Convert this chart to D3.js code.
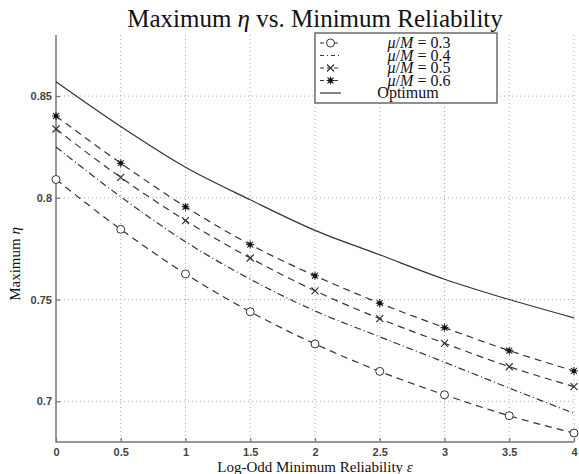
<!DOCTYPE html>
<html>
<head>
<meta charset="utf-8">
<script src="https://cdn.jsdelivr.net/npm/d3@7"></script>
<style>
body{margin:0;background:#fff;}
svg{display:block;}
</style>
</head>
<body>
<div id="chart"></div>
<script>
// values
const epsValues = [0, 0.5, 1, 1.5, 2, 2.5, 3, 3.5, 4];
const mu03 = [0.809, 0.7845, 0.7626, 0.744, 0.7282, 0.7147, 0.7032, 0.6929, 0.6844];
const mu04 = [0.825, 0.8005, 0.7784, 0.760, 0.7444, 0.7317, 0.7192, 0.7065, 0.6941];
const mu05 = [0.8338, 0.810, 0.7888, 0.7704, 0.7543, 0.7406, 0.7285, 0.717, 0.7072];
const mu06 = [0.8402, 0.817, 0.7956, 0.777, 0.7617, 0.7482, 0.7362, 0.7249, 0.7149];
const optimum = [0.857, 0.835, 0.815, 0.799, 0.784, 0.772, 0.760, 0.750, 0.741];
const xTicks = [0, 0.5, 1, 1.5, 2, 2.5, 3, 3.5, 4];
const yTicks = [0.7, 0.75, 0.8, 0.85];
const legendLabels = ["0.3", "0.4", "0.5", "0.6"];

const W = 579, H = 474;
const plotL = 56, plotR = 574, plotT = 35, plotB = 442;
const ink = "#333";

var svg = d3.select("#chart").append("svg")
	.attr("width", W)
	.attr("height", H);

var x = d3.scaleLinear().domain([0, 4]).range([plotL, plotR]);
var y = d3.scaleLinear().domain([0.68, 0.88]).range([plotB, plotT]);

// dotted grid
svg.append("g").selectAll("line").data(xTicks.slice(1)).join("line")
	.attr("x1", d => x(d)).attr("x2", d => x(d))
	.attr("y1", plotT).attr("y2", plotB)
	.attr("stroke", "#aaa").attr("stroke-width", 1)
	.attr("stroke-dasharray", "1,3");
svg.append("g").selectAll("line").data(yTicks).join("line")
	.attr("x1", plotL).attr("x2", plotR)
	.attr("y1", d => y(d)).attr("y2", d => y(d))
	.attr("stroke", "#aaa").attr("stroke-width", 1)
	.attr("stroke-dasharray", "1,3");

// axes (ticks point inward)
var xAxis = svg.append("g")
	.attr("transform", "translate(0," + plotB + ")")
	.call(d3.axisBottom(x).tickValues(xTicks).tickSize(-4).tickPadding(6).tickFormat(d3.format("")));
var yAxis = svg.append("g")
	.attr("transform", "translate(" + plotL + ",0)")
	.call(d3.axisLeft(y).tickValues(yTicks).tickSize(-4).tickPadding(4).tickFormat(d3.format("")));
[xAxis, yAxis].forEach(function(a){
	a.select(".domain").remove();
	a.selectAll(".tick line").attr("stroke", "#777").attr("stroke-width", 1.3);
	a.selectAll(".tick text")
		.style("font-family", "Liberation Sans, Arial, sans-serif")
		.style("font-size", "11px")
		.style("font-weight", "bold")
		.attr("fill", "#444");
});

svg.append("path")
	.attr("d", "M" + plotL + "," + plotT + "V" + plotB + "H" + plotR)
	.attr("fill", "none").attr("stroke", "#777").attr("stroke-width", 1.5);

// series
var series = [
	{vals: mu03, dash: "7,5", marker: "circle"},
	{vals: mu04, dash: "7,3,1,3", marker: "none"},
	{vals: mu05, dash: "7,5", marker: "cross"},
	{vals: mu06, dash: "7,5", marker: "star"},
	{vals: optimum, dash: null, marker: "none"}
];

var line = d3.line().x(d => x(d[0])).y(d => y(d[1])).curve(d3.curveMonotoneX);

function drawMarker(g, type, cx, cy){
	if(type == "circle"){
		g.append("circle").attr("cx", cx).attr("cy", cy).attr("r", 4)
			.attr("fill", "#fff").attr("stroke", ink).attr("stroke-width", 1);
	}
	else if(type == "cross"){
		g.append("path")
			.attr("d", "M" + (cx-3.5) + "," + (cy-3.5) + "L" + (cx+3.5) + "," + (cy+3.5) +
			           "M" + (cx-3.5) + "," + (cy+3.5) + "L" + (cx+3.5) + "," + (cy-3.5))
			.attr("stroke", ink).attr("stroke-width", 1.2);
	}
	else if(type == "star"){
		g.append("path")
			.attr("d", "M" + (cx-4) + "," + cy + "H" + (cx+4) +
			           "M" + cx + "," + (cy-4) + "V" + (cy+4) +
			           "M" + (cx-3) + "," + (cy-3) + "L" + (cx+3) + "," + (cy+3) +
			           "M" + (cx-3) + "," + (cy+3) + "L" + (cx+3) + "," + (cy-3))
			.attr("stroke", ink).attr("stroke-width", 1.1);
		g.append("circle").attr("cx", cx).attr("cy", cy).attr("r", 2.2).attr("fill", "#111");
	}
}

series.forEach(function(s){
	var pts = epsValues.map((e, i) => [e, s.vals[i]]);
	svg.append("path")
		.datum(pts)
		.attr("d", line)
		.attr("fill", "none")
		.attr("stroke", ink)
		.attr("stroke-width", 1.2)
		.attr("stroke-dasharray", s.dash);
	var mg = svg.append("g");
	pts.forEach(function(p){
		drawMarker(mg, s.marker, x(p[0]), y(p[1]));
	});
});

// legend
var lg = svg.append("g");
lg.append("rect")
	.attr("x", 315).attr("y", 33).attr("width", 182).attr("height", 70)
	.attr("fill", "#fff").attr("stroke", "#555").attr("stroke-width", 1.3);
var rowY = [43, 55.5, 68, 80.5, 93];
series.forEach(function(s, i){
	var ry = rowY[i];
	lg.append("line")
		.attr("x1", 320).attr("x2", 341).attr("y1", ry).attr("y2", ry)
		.attr("stroke", ink).attr("stroke-width", 1.2)
		.attr("stroke-dasharray", s.dash ? (i == 1 ? "4,3,1,3" : "4,3") : null);
	drawMarker(lg, s.marker, 330.5, ry);
	var t = lg.append("text")
		.attr("x", i < 4 ? 419 : 408).attr("y", ry + 5)
		.attr("text-anchor", "middle")
		.style("font-family", "Liberation Serif, Times New Roman, serif")
		.style("font-size", "16px")
		.attr("fill", "#111");
	if(i < 4){
		t.append("tspan").style("font-style", "italic").text("μ");
		t.append("tspan").text("/");
		t.append("tspan").style("font-style", "italic").text("M");
		t.append("tspan").text(" = " + legendLabels[i]);
	}
	else{
		t.text("Optimum");
	}
});

// title and axis titles
var title = svg.append("text")
	.attr("x", (plotL + plotR) / 2).attr("y", 27)
	.attr("text-anchor", "middle")
	.style("font-family", "Liberation Serif, Times New Roman, serif")
	.style("font-size", "25px")
	.attr("fill", "#111");
title.append("tspan").text("Maximum ");
title.append("tspan").style("font-style", "italic").text("η");
title.append("tspan").text(" vs. Minimum Reliability");

var xt = svg.append("text")
	.attr("x", (plotL + plotR) / 2).attr("y", 472)
	.attr("text-anchor", "middle")
	.style("font-family", "Liberation Serif, Times New Roman, serif")
	.style("font-size", "15px")
	.attr("fill", "#111");
xt.append("tspan").text("Log-Odd Minimum Reliability ");
xt.append("tspan").style("font-style", "italic").text("ε");

var yt = svg.append("text")
	.attr("transform", "translate(20,264) rotate(-90)")
	.attr("text-anchor", "middle")
	.style("font-family", "Liberation Serif, Times New Roman, serif")
	.style("font-size", "15px")
	.attr("fill", "#111");
yt.append("tspan").text("Maximum ");
yt.append("tspan").style("font-style", "italic").text("η");
</script>
</body>
</html>
